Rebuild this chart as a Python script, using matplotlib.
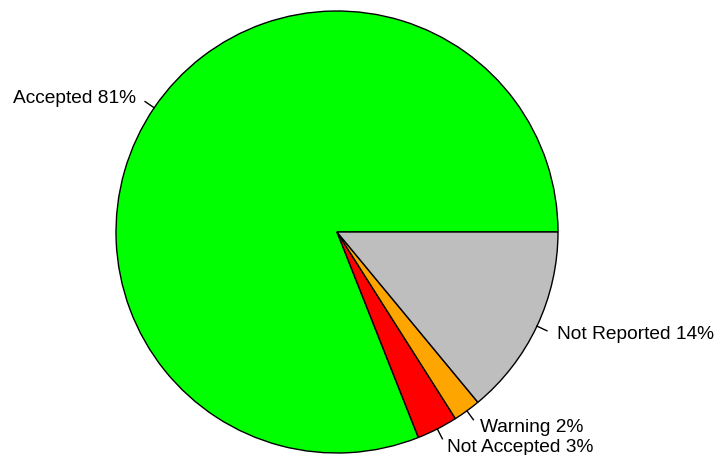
import numpy as np
import matplotlib
matplotlib.use("Agg")
import matplotlib.pyplot as plt
from matplotlib.patches import Wedge

labels = ["Accepted 81%", "Not Accepted 3%", "Warning 2%", "Not Reported 14%"]
values = [81, 3, 2, 14]
colors = ["#00ff00", "#ff0000", "#ffa500", "#bebebe"]


def main():
    fig = plt.figure(figsize=(7.17, 4.56), dpi=100)
    ax = fig.add_axes([0, 0, 1, 1])
    ax.set_xlim(-337 / 221, 380 / 221)
    ax.set_ylim(-223 / 221, 233 / 221)
    ax.set_aspect("equal")
    ax.axis("off")

    total = float(sum(values))
    start = 0.0
    for lab, v, c in zip(labels, values, colors):
        span = 360.0 * v / total
        ax.add_patch(Wedge((0, 0), 1.0, start, start + span, facecolor=c,
                           edgecolor="black", linewidth=1.0))
        mid = np.deg2rad(start + span / 2)
        cx, cy = np.cos(mid), np.sin(mid)
        ax.plot([cx, 1.05 * cx], [cy, 1.05 * cy], color="black", linewidth=1.0)
        # right-side labels sit a touch higher, left one a touch lower (as in R output)
        dy = 0.01 if cx > 0 else -0.01
        ax.text(1.1 * cx, 1.1 * cy + dy, lab, ha="left" if cx > 0 else "right",
                va="center", fontsize=13.8, family="Liberation Sans")
        start += span

    fig.savefig("out.png", dpi=100)


if __name__ == "__main__":
    main()
